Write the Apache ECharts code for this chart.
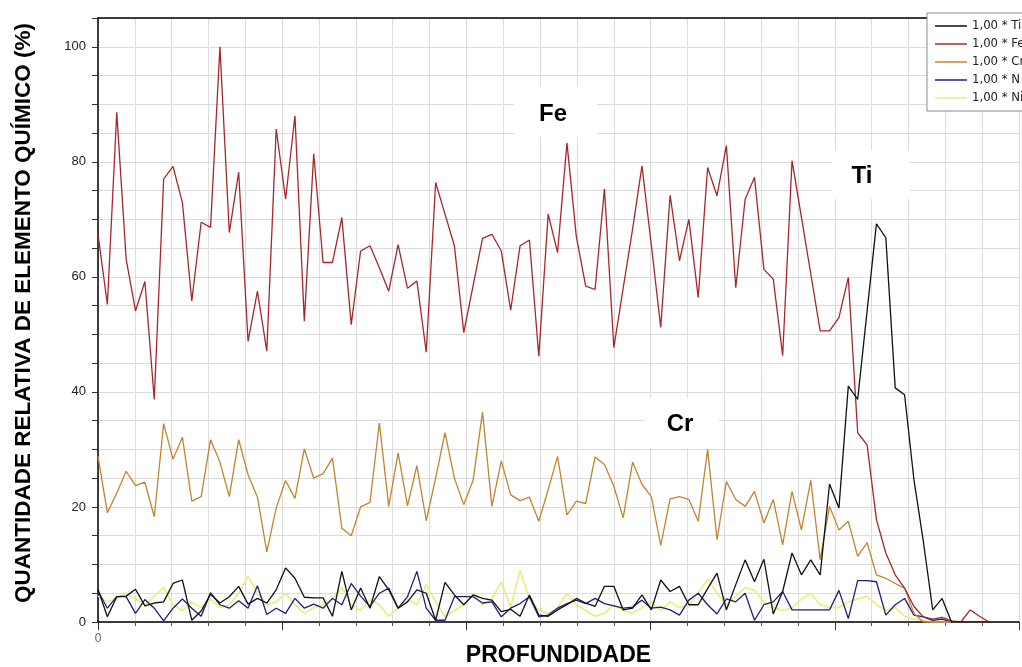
<!DOCTYPE html>
<html>
<head>
<meta charset="utf-8">
<title>Perfil de profundidade</title>
<script src="https://cdn.jsdelivr.net/npm/echarts@6/dist/echarts.min.js"></script>
<style>
  html, body { margin: 0; padding: 0; background: #fff; }
  #chart { width: 1022px; height: 667px; }
</style>
</head>
<body>
<div id="chart"></div>
<script>
// profundidade (pontos da medida)
const depth = [
  0, 1, 2, 3, 4, 5, 6, 7, 8, 9, 10, 11, 12, 13, 14, 15, 16, 17, 18, 19,
  20, 21, 22, 23, 24, 25, 26, 27, 28, 29, 30, 31, 32, 33, 34, 35, 36, 37, 38, 39,
  40, 41, 42, 43, 44, 45, 46, 47, 48, 49, 50, 51, 52, 53, 54, 55, 56, 57, 58, 59,
  60, 61, 62, 63, 64, 65, 66, 67, 68, 69, 70, 71, 72, 73, 74, 75, 76, 77, 78, 79,
  80, 81, 82, 83, 84, 85, 86, 87, 88, 89, 90, 91, 92, 93, 94, 95
];

const ti = [
  5.7, 0.9, 4.4, 4.5, 5.7, 2.8, 3.3, 3.5, 6.7, 7.3,
  0.3, 1.9, 4.8, 3.3, 4.4, 6.2, 3.1, 4.1, 3.3, 5.6,
  9.4, 7.6, 4.3, 4.2, 4.2, 1.0, 8.8, 2.1, 5.9, 2.4,
  7.9, 5.6, 2.4, 3.5, 5.6, 5.0, 0.3, 6.9, 4.7, 3.0,
  4.7, 4.1, 3.8, 1.8, 2.2, 1.0, 4.7, 1.2, 1.0, 2.1,
  3.0, 4.1, 3.3, 2.7, 6.2, 6.2, 2.1, 2.4, 4.7, 2.1,
  7.3, 5.3, 6.2, 3.0, 3.0, 5.8, 8.5, 2.1, 6.5, 10.8,
  7.0, 10.9, 1.4, 5.3, 12.0, 8.2, 10.8, 8.2, 24.0, 19.8,
  41.0, 38.7, 54.0, 69.2, 66.8, 40.7, 39.5, 24.7, 14.0, 2.1,
  4.1, 0, 0, 0, 0, 0
];

const fe = [
  67.4, 55.2, 88.6, 63.1, 54.1, 59.2, 38.7, 77.0, 79.2, 72.9,
  55.8, 69.5, 68.6, 100.0, 67.7, 78.2, 48.8, 57.5, 47.1, 85.7,
  73.5, 88.0, 52.3, 81.4, 62.5, 62.5, 70.3, 51.7, 64.5, 65.4,
  61.6, 57.5, 65.6, 58.0, 59.3, 46.9, 76.4, 70.9, 65.4, 50.3,
  58.5, 66.7, 67.4, 64.5, 54.2, 65.4, 66.4, 46.2, 70.9, 64.2,
  83.3, 67.0, 58.4, 57.8, 75.3, 47.7, 58.1, 68.3, 79.3, 65.5,
  51.2, 74.2, 62.8, 70.0, 56.4, 79.0, 74.1, 82.8, 58.1, 73.5,
  77.3, 61.3, 59.6, 46.3, 80.2, 70.4, 60.5, 50.6, 50.6, 52.9,
  59.9, 32.9, 30.8, 17.8, 12.0, 8.2, 5.9, 2.7, 0.9, 0.5,
  0.8, 0.2, 0, 2.1, 1.0, 0
];

const cr = [
  28.8, 19.0, 22.4, 26.2, 23.7, 24.3, 18.3, 34.5, 28.3, 32.1,
  21.0, 21.8, 31.7, 27.8, 21.8, 31.7, 25.6, 21.7, 12.2, 19.8,
  24.6, 21.5, 30.1, 25.0, 25.8, 28.5, 16.3, 15.0, 20.0, 20.8,
  34.6, 20.1, 29.4, 20.2, 27.2, 17.6, 25.0, 32.9, 25.0, 20.4,
  24.7, 36.5, 20.1, 28.0, 22.1, 21.1, 21.7, 17.5, 23.0, 28.8,
  18.6, 21.0, 20.6, 28.7, 27.4, 23.6, 18.1, 27.8, 23.9, 21.8,
  13.3, 21.4, 21.8, 21.3, 17.5, 30.0, 14.3, 24.4, 21.3, 20.1,
  22.7, 17.2, 21.3, 13.4, 22.7, 16.0, 24.6, 10.8, 20.1, 16.0,
  17.5, 11.4, 13.8, 8.2, 7.6, 6.7, 5.9, 1.5, 0, 0,
  0, 0, 0, 0, 0, 0
];

const n = [
  5.4, 2.4, 4.4, 4.4, 1.5, 3.9, 2.4, 0.2, 2.4, 4.0,
  2.4, 1.0, 5.1, 3.0, 2.4, 3.7, 2.4, 6.3, 1.3, 2.4,
  1.5, 4.1, 2.4, 3.1, 2.4, 4.1, 3.0, 6.7, 4.5, 2.7,
  5.0, 5.9, 2.4, 4.4, 8.8, 2.4, 0.3, 0.3, 4.4, 4.4,
  4.4, 3.3, 3.5, 0.9, 2.4, 3.2, 4.4, 0.9, 1.2, 2.4,
  3.2, 3.8, 3.2, 4.1, 3.2, 2.8, 2.4, 2.6, 3.8, 2.4,
  2.6, 2.1, 1.2, 3.8, 5.0, 3.0, 1.4, 4.0, 3.5, 5.0,
  0.3, 3.0, 3.5, 5.3, 2.1, 2.1, 2.1, 2.1, 2.1, 5.5,
  0.6, 7.2, 7.2, 7.0, 1.2, 3.0, 4.1, 1.2, 0.9, 0.3,
  0.5, 0, 0, 0, 0, 0
];

const ni = [
  4.5, 3.5, 4.0, 5.0, 4.0, 3.0, 4.5, 6.0, 3.0, 2.0,
  3.5, 2.5, 4.0, 2.5, 3.0, 5.0, 8.0, 5.0, 3.0, 3.5,
  5.0, 3.0, 1.5, 2.5, 3.0, 4.0, 6.0, 3.0, 2.0, 4.0,
  3.0, 1.0, 2.5, 4.0, 3.0, 6.5, 3.5, 1.0, 2.0, 3.0,
  5.0, 3.0, 4.0, 7.0, 2.5, 9.0, 4.0, 2.0, 1.5, 2.5,
  5.0, 3.0, 2.0, 1.0, 1.5, 3.0, 2.0, 1.5, 2.5, 3.5,
  2.0, 3.5, 2.5, 3.0, 5.0, 7.5, 5.0, 3.0, 4.5, 6.0,
  5.5, 3.5, 2.5, 2.0, 2.5, 4.0, 5.0, 3.0, 2.5, 2.5,
  3.5, 4.0, 4.5, 3.0, 2.0, 2.5, 1.0, 0.5, 0.3, 0,
  0, 0, 0, 0, 0, 0
];

const seriesNames = ['Ti', 'Fe', 'Cr', 'N', 'Ni'];
const seriesColors = ['#111111', '#a8262a', '#c4832f', '#1f1f7a', '#ecec7e'];
const seriesData = [ti, fe, cr, n, ni];

const font = '"Liberation Sans", Arial, sans-serif';

function pairs(values) {
  return values.map((v, i) => [depth[i], v]);
}

const chart = echarts.init(document.getElementById('chart'));

const option = {
  backgroundColor: '#fff',
  animation: false,
  grid: {
    left: 98,
    right: 3,
    top: 18,
    bottom: 45,
    outerBoundsMode: 'none'
  },
  legend: {
    orient: 'vertical',
    left: 927,
    top: 13,
    padding: [5, 60, 5, 8],
    itemGap: 2,
    itemWidth: 32,
    itemHeight: 1.5,
    icon: 'rect',
    backgroundColor: '#fff',
    borderColor: '#8a8a8a',
    borderWidth: 1,
    borderRadius: 0,
    data: seriesNames,
    formatter: name => '1,00 * ' + name,
    textStyle: {
      fontFamily: '"Liberation Sans Narrow", "DejaVu Sans Condensed", sans-serif',
      fontSize: 13,
      lineHeight: 16,
      color: '#222'
    }
  },
  xAxis: [
    {
      type: 'value',
      min: 0,
      max: 98.2,
      interval: 19.64,
      name: 'PROFUNDIDADE',
      nameLocation: 'middle',
      nameGap: 22,
      nameMoveOverlap: false,
      nameTextStyle: {
        fontFamily: font,
        fontWeight: 'bold',
        fontSize: 23,
        color: '#000'
      },
      axisLine: { show: true, lineStyle: { color: '#000', width: 1.5 } },
      axisTick: { show: true, length: 8, lineStyle: { color: '#333' } },
      minorTick: { show: true, splitNumber: 5, length: 4, lineStyle: { color: '#555' } },
      axisLabel: {
        color: '#666',
        fontSize: 12,
        fontFamily: font,
        margin: 11,
        formatter: v => (v === 0 ? '0' : '')
      },
      splitLine: { show: true, lineStyle: { color: '#dcdcdc' } },
      minorSplitLine: { show: true, lineStyle: { color: '#dcdcdc' } }
    },
    {
      // borda superior do gráfico
      type: 'value',
      position: 'top',
      min: 0,
      max: 98.2,
      axisLine: { show: true, lineStyle: { color: '#000', width: 1.5 } },
      axisTick: { show: false },
      axisLabel: { show: false },
      splitLine: { show: false }
    }
  ],
  yAxis: {
    type: 'value',
    min: 0,
    max: 105,
    interval: 5,
    name: 'QUANTIDADE RELATIVA DE ELEMENTO QUÍMICO (%)',
    nameLocation: 'middle',
    nameGap: 63,
    nameTextStyle: {
      fontFamily: font,
      fontWeight: 'bold',
      fontSize: 22.5,
      color: '#000',
      padding: [0, 0, 0, 14]
    },
    axisLine: { show: true, lineStyle: { color: '#000', width: 1.5 } },
    axisTick: { show: true, length: 6, lineStyle: { color: '#333' } },
    axisLabel: {
      color: '#222',
      fontSize: 13,
      fontFamily: font,
      margin: 12,
      formatter: v => (v % 20 === 0 ? String(v) : '')
    },
    splitLine: { show: true, lineStyle: { color: '#dcdcdc' } }
  },
  graphic: [
    { type: 'rect', shape: { x: 514, y: 86, width: 83, height: 51 }, style: { fill: '#fff' }, z: 50 },
    { type: 'text', x: 553, y: 114, z: 51,
      style: { text: 'Fe', font: 'bold 24px "Liberation Sans", Arial', fill: '#000',
               align: 'center', verticalAlign: 'middle', textAlign: 'center', textVerticalAlign: 'middle' } },
    { type: 'rect', shape: { x: 832, y: 150, width: 78, height: 49 }, style: { fill: '#fff' }, z: 50 },
    { type: 'text', x: 862, y: 176, z: 51,
      style: { text: 'Ti', font: 'bold 24px "Liberation Sans", Arial', fill: '#000',
               align: 'center', verticalAlign: 'middle', textAlign: 'center', textVerticalAlign: 'middle' } },
    { type: 'rect', shape: { x: 645, y: 398, width: 74, height: 50 }, style: { fill: '#fff' }, z: 50 },
    { type: 'text', x: 680, y: 424, z: 51,
      style: { text: 'Cr', font: 'bold 24px "Liberation Sans", Arial', fill: '#000',
               align: 'center', verticalAlign: 'middle', textAlign: 'center', textVerticalAlign: 'middle' } }
  ],
  series: seriesNames.map((name, k) => ({
    name: name,
    type: 'line',
    xAxisIndex: 0,
    data: pairs(seriesData[k]),
    symbol: 'none',
    z: k === 4 ? 1 : 2 + (4 - k),
    lineStyle: { color: seriesColors[k], width: k === 4 ? 1.6 : 1.3 },
    itemStyle: { color: seriesColors[k] }
  }))
};

chart.setOption(option);
</script>
</body>
</html>
